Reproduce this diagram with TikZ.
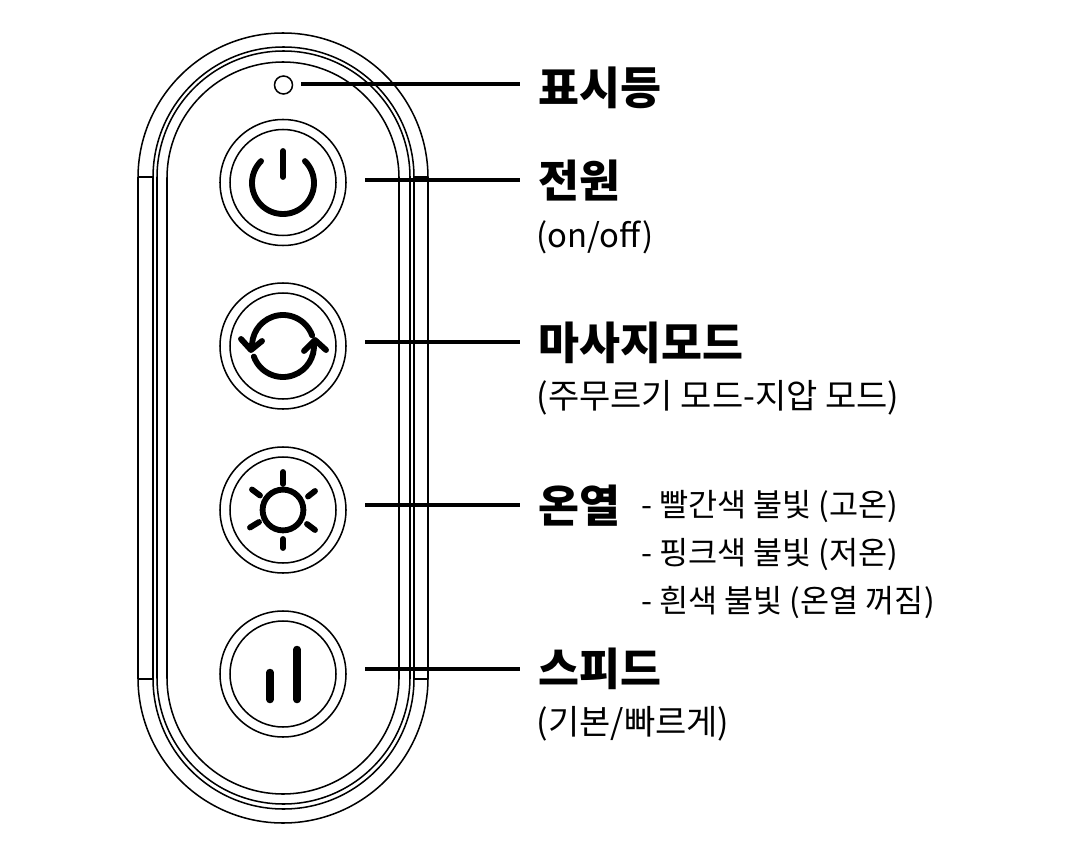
\documentclass[tikz,border=0pt]{standalone}
\usepackage{fontspec}
\setmainfont{Noto Sans CJK KR}
\usetikzlibrary{positioning}
\tikzset{
  shell/.style={line width=1.3pt},
  ring/.style={line width=1.3pt},
  leader/.style={line width=2.9pt},
  icon/.style={line width=5pt,line cap=round},
  bar/.style={line width=6.4pt,line cap=round},
  headlbl/.style={anchor=west,inner sep=0pt,font=\bfseries\fontsize{38}{38}\selectfont},
  sublbl/.style={anchor=west,inner sep=0pt,font=\fontsize{29}{29}\selectfont},
  listlbl/.style={anchor=west,inner sep=0pt,font=\fontsize{27}{27}\selectfont},
}
\begin{document}
\begin{tikzpicture}[x=.03cm,y=-.03cm]
\useasboundingbox (0,0) rectangle (1066,847);
% housing outlines
\foreach \l/\t/\r/\b in {138/33/428/823,153/47/414/809,157/51/410/804,167/62/399/794}
  \draw[shell,rounded corners={(\r-\l)/2*.03cm}] (\l,\t) rectangle (\r,\b);
\draw[shell] (138,177) -- (153,177);
\draw[shell] (414,177) -- (428,177);
\draw[shell] (138,679) -- (153,679);
\draw[shell] (414,679) -- (428,679);
% led and buttons
\draw[ring] (283.5,85) circle[radius=9];
\foreach \y in {182.5,346,510,674} {
  \draw[ring] (283,\y) circle[radius=63];
  \draw[ring] (283,\y) circle[radius=53];
}
% power
\draw[icon] (283,183) ++(225:31) arc[start angle=225,end angle=-45,radius=31];
\draw[icon] (283,151) -- (283,177);
% mode
\draw[icon] (283,346) ++(-20:31) arc[start angle=-20,end angle=-185,radius=31];
\draw[icon] (283,346) ++(160:31) arc[start angle=160,end angle=-5,radius=31];
\draw[icon,line join=round] (241,339) -- (251,350) -- (262,341);
\draw[icon,line join=round] (304,351) -- (315,340) -- (326,350);
% heat
\draw[icon] (283,510) circle[radius=20.4];
\foreach \a/\b/\c/\d in {283/472/283/484,283/539/283/548,252/489.5/260/495.5,315/491/308/496.5,250/527.5/259/522,315/530/307/524}
  \draw[icon] (\a,\b) -- (\c,\d);
% speed
\draw[bar] (270,672.5) -- (270,699.5);
\draw[bar] (297,649.5) -- (297,699.5);
% labels
\node[headlbl] (ledlbl) at (538,87.5) {표시등};
\node[headlbl] (powerlbl) at (538,181) {전원};
\node[sublbl,font=\fontsize{28}{28}\selectfont] (powersub) at (536.5,237) {(on/off)};
\node[headlbl] (modelbl) at (538,343) {마사지모드};
\node[sublbl] (modesub) at (536.5,398) {(주무르기 모드-지압 모드)};
\node[headlbl] (heatlbl) at (538,506) {온열};
\node[listlbl] (heatred) at (641,507) {- 빨간색 불빛 (고온)};
\node[listlbl] (heatpink) at (641,555) {- 핑크색 불빛 (저온)};
\node[listlbl] (heatwhite) at (641,602) {- 흰색 불빛 (온열 꺼짐)};
\node[headlbl] (speedlbl) at (538,669) {스피드};
\node[sublbl] (speedsub) at (536.5,723.5) {(기본/빠르게)};
% leader lines
\coordinate (ledend) at (301,84);
\coordinate (powerend) at (365,180);
\coordinate (modeend) at (365,342);
\coordinate (heatend) at (365,505);
\coordinate (speedend) at (365,669);
\draw[leader,shorten >=15.4pt] (ledend) -- (ledend -| ledlbl.west);
\draw[leader,shorten >=15.4pt] (powerend) -- (powerend -| powerlbl.west);
\draw[leader,shorten >=15.4pt] (modeend) -- (modeend -| modelbl.west);
\draw[leader,shorten >=15.4pt] (heatend) -- (heatend -| heatlbl.west);
\draw[leader,shorten >=15.4pt] (speedend) -- (speedend -| speedlbl.west);
\end{tikzpicture}
\end{document}
